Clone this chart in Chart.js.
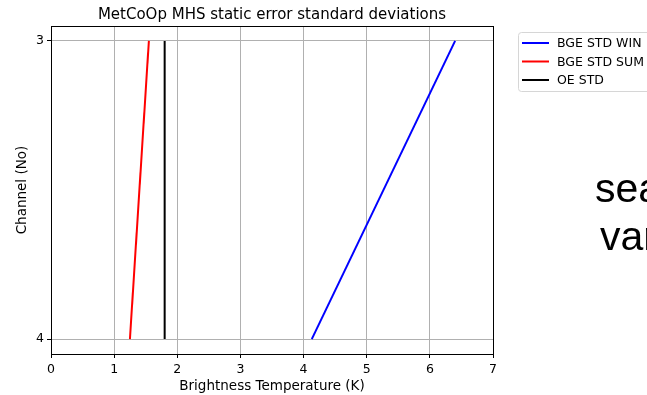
<!DOCTYPE html>
<html>
<head>
<meta charset="utf-8">
<script src="https://cdn.jsdelivr.net/npm/chart.js@4"></script>
<style>
  html, body { margin: 0; padding: 0; background: #fff; overflow: hidden; }
  #wrap { position: relative; width: 647px; height: 395px; }
  .big { position: absolute; font-family: "Liberation Sans", Arial, sans-serif; font-size: 41px; color: #000; line-height: 1; white-space: nowrap; }
</style>
</head>
<body>
<div id="wrap">
  <canvas id="chart" width="647" height="395"></canvas>
  <div class="big" style="left:595px; top:168px;">sea</div>
  <div class="big" style="left:600px; top:216px;">var</div>
</div>
<script>
const channels = [3, 4];
const bgeWin = [6.40, 4.13];
const bgeSum = [1.55, 1.25];
const oeStd = [1.80, 1.80];
const xTicks = [0, 1, 2, 3, 4, 5, 6, 7];
const yTicks = [3, 4];
const seriesNames = ['BGE STD WIN', 'BGE STD SUM', 'OE STD'];
const seriesColors = ['#0000ff', '#ff0000', '#000000'];

const font = 'DejaVu Sans';

function pts(xs) {
  return xs.map((x, i) => ({ x: x, y: channels[i] }));
}

const frameAndLegend = {
  id: 'frameAndLegend',
  afterDraw(chart) {
    const c = chart.ctx;
    const a = chart.chartArea;
    c.save();
    // axes frame
    c.strokeStyle = '#000';
    c.lineWidth = 1;
    c.strokeRect(Math.round(a.left) + 0.5, Math.round(a.top) + 0.5,
      Math.round(a.right - a.left), Math.round(a.bottom - a.top));
    // title
    c.fillStyle = '#000';
    c.font = '15px "' + font + '"';
    c.textAlign = 'center';
    c.textBaseline = 'alphabetic';
    c.fillText('MetCoOp MHS static error standard deviations', (a.left + a.right) / 2, 19);
    // legend
    const lx = 518, ly = 32;
    c.fillStyle = '#fff';
    c.strokeStyle = '#d6d6d6';
    c.beginPath();
    c.roundRect(lx + 0.5, ly + 0.5, 140, 59, 3);
    c.fill();
    c.stroke();
    c.font = '12.5px "' + font + '"';
    c.textAlign = 'left';
    c.textBaseline = 'middle';
    seriesNames.forEach((name, i) => {
      const y = ly + 11 + i * 18.5;
      c.strokeStyle = seriesColors[i];
      c.lineWidth = 2;
      c.beginPath();
      c.moveTo(522, y);
      c.lineTo(549, y);
      c.stroke();
      c.fillStyle = '#000';
      c.fillText(name, 557, y + 1);
    });
    c.restore();
  }
};

new Chart(document.getElementById('chart').getContext('2d'), {
  type: 'scatter',
  data: {
    datasets: [
      { label: seriesNames[0], data: pts(bgeWin), borderColor: seriesColors[0] },
      { label: seriesNames[1], data: pts(bgeSum), borderColor: seriesColors[1] },
      { label: seriesNames[2], data: pts(oeStd), borderColor: seriesColors[2] }
    ].map(d => Object.assign(d, { showLine: true, pointRadius: 0, borderWidth: 2, backgroundColor: d.borderColor }))
  },
  options: {
    responsive: false,
    animation: false,
    layout: { padding: { top: 26, right: 154, left: 0, bottom: 0 } },
    plugins: { legend: { display: false }, title: { display: false }, tooltip: { enabled: false } },
    scales: {
      x: {
        type: 'linear',
        min: 0,
        max: 7,
        afterBuildTicks: s => { s.ticks = xTicks.map(v => ({ value: v })); },
        afterFit: s => { s.height = 41; },
        grid: { color: '#b0b0b0', lineWidth: 1, drawTicks: true, tickLength: 4, tickColor: '#000' },
        border: { color: '#000', width: 1 },
        ticks: { color: '#000', font: { family: font, size: 12.5 }, padding: 4, maxRotation: 0 },
        title: { display: true, text: 'Brightness Temperature (K)', color: '#000', font: { family: font, size: 13.5 }, padding: { top: 0, bottom: 0 } }
      },
      y: {
        type: 'linear',
        reverse: true,
        min: 2.95,
        max: 4.05,
        afterBuildTicks: s => { s.ticks = yTicks.map(v => ({ value: v })); },
        afterFit: s => { s.width = 51; },
        grid: { color: '#b0b0b0', lineWidth: 1, drawTicks: true, tickLength: 4, tickColor: '#000' },
        border: { color: '#000', width: 1 },
        ticks: { color: '#000', font: { family: font, size: 12.5 }, padding: 3 },
        title: { display: true, text: 'Channel (No)', color: '#000', font: { family: font, size: 13.5 }, padding: { top: 14, bottom: 0 } }
      }
    }
  },
  plugins: [frameAndLegend]
});
</script>
</body>
</html>
